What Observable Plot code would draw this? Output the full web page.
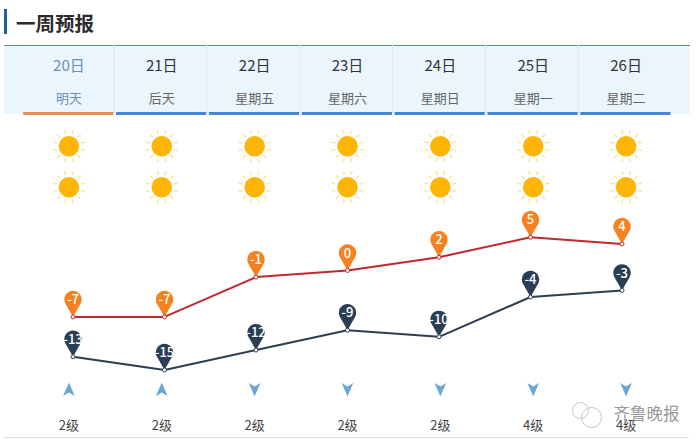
<!DOCTYPE html>
<html><head><meta charset="utf-8">
<script src="https://cdn.jsdelivr.net/npm/d3@7"></script>
<script src="https://cdn.jsdelivr.net/npm/@observablehq/plot@0.6"></script>
<style>
html,body{margin:0;padding:0;background:#fff;font-family:"Noto Sans CJK SC","Noto Sans",sans-serif;}
#page{position:relative;width:700px;height:444px;overflow:hidden;}
.layer{position:absolute;left:0;}
.layer svg{display:block;}
#bar{position:absolute;left:4px;top:9px;width:3px;height:25px;background:#1e5f9e;}
#title{position:absolute;left:16px;top:8px;margin:0;font-size:19.5px;line-height:30px;font-weight:700;color:#2b2b2b;}
#head{position:absolute;left:4px;top:45px;width:686px;height:69px;background:#eaf5fd;border-top:1px solid #5b88b5;box-sizing:border-box;}
#foot{position:absolute;left:4px;top:437px;width:685px;height:1px;background:#dcdcdc;}
</style></head>
<body>
<div id="page">
  <div id="bar"></div><h2 id="title">一周预报</h2><div id="head"></div><div id="foot"></div>
</div>
<script>
const dates = ["20日","21日","22日","23日","24日","25日","26日"];
const weekdays = ["明天","后天","星期五","星期六","星期日","星期一","星期二"];
const highs = [-7,-7,-1,0,2,5,4];
const lows = [-13,-15,-12,-9,-10,-4,-3];
const windDirs = ["up","up","down","down","down","down","down"];
const windLevels = ["2级","2级","2级","2级","2级","4级","4级"];
const sunRows = ["白天","夜间"];
const headRows = ["日期","星期"];
const windRows = ["风向","风力"];

const page = document.getElementById("page");
const font = '"Noto Sans CJK SC","Noto Sans",sans-serif';
const columnX = {type:"band", domain:dates, range:[22,672], padding:0, round:false, axis:null};
const base = {width:700, margin:0, style:{background:"transparent",overflow:"visible",fontFamily:font}};
function place(svg, top){
  const d = document.createElement("div");
  d.className = "layer"; d.style.top = top + "px";
  d.appendChild(svg); page.appendChild(d);
}
const accent = "#6a8fbe";

/* Header */
place(Plot.plot({...base, height:68,
  x:columnX,
  y:{type:"point", domain:headRows, range:[21,53], padding:0, round:false, axis:null},
  color:{type:"identity"},
  marks:[
    Plot.ruleX(dates.slice(0,-1),{x:d=>d, dx:45.2, stroke:"#dde9f3", strokeWidth:1}),
    Plot.text(dates,{x:d=>d, y:()=>"日期", text:d=>d, fontSize:15,
      fill:(d,i)=>i===0?accent:"#333", fontFamily:font}),
    Plot.text(weekdays,{x:(d,i)=>dates[i], y:()=>"星期", text:d=>d, fontSize:13,
      fill:(d,i)=>i===0?accent:"#666", fontFamily:font})
  ]
}),45);

/* Underlines */
place(Plot.plot({...base, height:3,
  x:columnX, y:{axis:null},
  color:{type:"identity"},
  marks:[
    Plot.cell(dates,{x:d=>d, fill:(d,i)=>i===0?"#e58f55":"#4a86d8", insetLeft:1.2, insetRight:1.5})
  ]
}),112);

/* Suns */
const sunRays = {draw(ctx){
  for(let k=0;k<12;k++){
    const a=(15+30*k)*Math.PI/180;
    ctx.moveTo(12.5*Math.cos(a),12.5*Math.sin(a));
    ctx.lineTo(16.5*Math.cos(a),16.5*Math.sin(a));
  }
}};
const sunData = sunRows.flatMap(r=>dates.map(d=>({day:d,row:r})));
place(Plot.plot({...base, height:90,
  x:columnX,
  y:{type:"point", domain:sunRows, range:[25.7,66.7], padding:0, round:false, axis:null},
  marks:[
    Plot.dot(sunData,{x:"day", y:"row", symbol:sunRays, fill:"none", stroke:"#fde59c", strokeWidth:1.5}),
    Plot.dot(sunData,{x:"day", y:"row", r:10.3, fill:"#ffb506", stroke:"none"})
  ]
}),120);

/* Temperature lines */
const pin = {draw(ctx){
  const r=8.7, c=17.5, t=Math.asin(r/c);
  ctx.moveTo(0,0);
  ctx.arc(0,-c,r,Math.PI-t,2*Math.PI+t);
  ctx.closePath();
}};
const highData = dates.map((d,i)=>({day:d,t:highs[i]}));
const lowData = dates.map((d,i)=>({day:d,t:lows[i]}));
function series(data,lineColor,pinColor){
  return [
    Plot.line(data,{x:"day", y:"t", stroke:lineColor, strokeWidth:2, curve:"linear"}),
    Plot.dot(data,{x:"day", y:"t", symbol:pin, fill:pinColor, stroke:"none"}),
    Plot.dot(data,{x:"day", y:"t", r:2, fill:"#fff", stroke:lineColor, strokeWidth:1}),
    Plot.text(data,{x:"day", y:"t", text:"t", dy:-17, fontSize:13, fontWeight:500, fill:"#fff", fontFamily:font})
  ];
}
place(Plot.plot({...base, height:180,
  x:{type:"point", domain:dates, range:[72.5,621.5], padding:0, round:false, axis:null},
  y:{domain:[-15,5], range:[169.5,36.8], axis:null},
  marks:[
    ...series(highData,"#c0282d","#f58220"),
    ...series(lowData,"#2c3e50","#2a3f54")
  ]
}),200);

/* Wind */
const arrow = {draw(ctx){
  ctx.moveTo(0,-7); ctx.lineTo(5.8,6.5); ctx.lineTo(0,3); ctx.lineTo(-5.8,6.5); ctx.closePath();
}};
const windData = dates.map((d,i)=>({day:d,dir:windDirs[i],level:windLevels[i]}));
place(Plot.plot({...base, height:50,
  x:columnX,
  y:{type:"point", domain:windRows, range:[9,45], padding:0, round:false, axis:null},
  marks:[
    Plot.dot(windData,{x:"day", y:()=>"风向", symbol:arrow, fill:"#6ea6d3", stroke:"none",
      rotate:d=>d.dir==="down"?180:0}),
    Plot.text(windData,{x:"day", y:()=>"风力", text:"level", fontSize:13, fill:"#444", fontFamily:font})
  ]
}),380);

/* Watermark */
const bubbles = {draw(ctx){
  ctx.moveTo(3,-4); ctx.arc(-5,-4,8,0,2*Math.PI);
  ctx.moveTo(16,3); ctx.arc(6,3,10,0,2*Math.PI);
}};
const marks = ["齐鲁晚报"];
place(Plot.plot({...base, width:110, height:30,
  x:{axis:null}, y:{axis:null},
  marks:[
    Plot.dot(marks,{frameAnchor:"left", dx:16, symbol:bubbles, fill:"#fff", fillOpacity:0.6, stroke:"#c4c4c4", strokeWidth:1}),
    Plot.text(marks,{frameAnchor:"right", text:d=>d, fontSize:16.5, fill:"#8a8a8a", fillOpacity:0.9, fontFamily:font})
  ]
}),399);
page.lastChild.style.left = "569px";
</script>
</body></html>
